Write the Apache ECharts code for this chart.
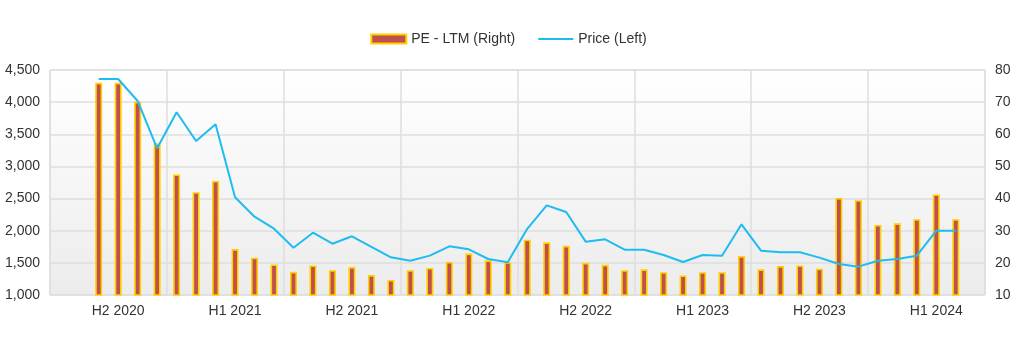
<!DOCTYPE html>
<html>
<head>
<meta charset="utf-8">
<script src="https://cdn.jsdelivr.net/npm/echarts@6/dist/echarts.min.js"></script>
<style>html,body{margin:0;padding:0;background:#fff}#c{width:1017px;height:348px}</style>
</head>
<body>
<div id="c"></div>
<script>
// Monthly categories Jul 2020 .. Jun 2024 (48 months)
const categories = [
  "Jul 2020","Aug 2020","Sep 2020","Oct 2020","Nov 2020","Dec 2020",
  "Jan 2021","Feb 2021","Mar 2021","Apr 2021","May 2021","Jun 2021",
  "Jul 2021","Aug 2021","Sep 2021","Oct 2021","Nov 2021","Dec 2021",
  "Jan 2022","Feb 2022","Mar 2022","Apr 2022","May 2022","Jun 2022",
  "Jul 2022","Aug 2022","Sep 2022","Oct 2022","Nov 2022","Dec 2022",
  "Jan 2023","Feb 2023","Mar 2023","Apr 2023","May 2023","Jun 2023",
  "Jul 2023","Aug 2023","Sep 2023","Oct 2023","Nov 2023","Dec 2023",
  "Jan 2024","Feb 2024","Mar 2024","Apr 2024","May 2024","Jun 2024"
];
const halfYearLabels = ["H2 2020","H1 2021","H2 2021","H1 2022","H2 2022","H1 2023","H2 2023","H1 2024"];

// PE - LTM (right axis), Sep 2020 .. May 2024
const peLtm = [
  76.0, 76.0, 70.1, 57.2, 47.5, 42.0, 45.5, 24.3, 21.6, 19.5,
  17.2, 19.2, 17.7, 18.7, 16.2, 14.7, 17.7, 18.4, 20.3, 22.9,
  20.8, 20.2, 27.2, 26.4, 25.3, 20.0, 19.4, 17.7, 18.0, 17.1,
  16.1, 17.1, 17.1, 22.1, 18.0, 19.0, 19.2, 18.2, 40.2, 39.5,
  31.8, 32.3, 33.6, 41.3, 33.6
];
// Price (left axis), Sep 2020 .. May 2024
const price = [
  4360, 4360, 4018, 3282, 3842, 3396, 3655, 2520, 2218, 2031,
  1736, 1969, 1798, 1913, 1747, 1586, 1533, 1612, 1757, 1711,
  1560, 1508, 2030, 2395, 2291, 1830, 1866, 1705, 1705, 1622,
  1513, 1622, 1612, 2100, 1690, 1664, 1664, 1581, 1482, 1441,
  1534, 1560, 1612, 2001, 2001
];
const firstIndex = 2; // data starts at Sep 2020

function pad(arr) {
  const out = categories.map(() => null);
  arr.forEach((v, i) => { out[firstIndex + i] = v; });
  return out;
}

const chart = echarts.init(document.getElementById('c'), null, {renderer: 'canvas'});
const textStyle = {fontFamily: 'Liberation Sans, Arial, sans-serif', fontSize: 14, color: '#333'};

chart.setOption({
  animation: false,
  textStyle: textStyle,
  legend: {
    top: 27,
    left: 'center',
    itemGap: 22,
    itemWidth: 35,
    itemHeight: 9,
    textStyle: textStyle,
    data: [
      {name: 'PE - LTM (Right)', icon: 'rect'},
      {name: 'Price (Left)', itemStyle: {opacity: 0}}
    ]
  },
  grid: {
    left: 50, right: 32, top: 70, bottom: 53,
    show: true,
    borderColor: '#d6d6d6',
    borderWidth: 1,
    backgroundColor: new echarts.graphic.LinearGradient(0, 0, 0, 1, [
      {offset: 0, color: '#ffffff'},
      {offset: 1, color: '#ececec'}
    ])
  },
  xAxis: {
    type: 'category',
    data: categories,
    boundaryGap: true,
    axisLine: {show: false},
    axisTick: {show: false},
    axisLabel: {
      ...textStyle,
      margin: 9,
      interval: (i) => i % 6 === 3,
      formatter: (v, i) => halfYearLabels[Math.floor(i / 6)]
    },
    splitLine: {show: true, interval: 5, lineStyle: {color: '#dedede', width: 1.5}}
  },
  yAxis: [
    {
      type: 'value', position: 'left',
      min: 1000, max: 4500, interval: 500,
      axisLine: {show: false}, axisTick: {show: false},
      axisLabel: {...textStyle, margin: 10, formatter: (v) => v.toLocaleString('en-US')},
      splitLine: {show: true, lineStyle: {color: '#dedede', width: 1.5}}
    },
    {
      type: 'value', position: 'right',
      min: 10, max: 80, interval: 10,
      axisLine: {show: false}, axisTick: {show: false},
      axisLabel: {...textStyle, margin: 10},
      splitLine: {show: false}
    }
  ],
  series: [
    {
      name: 'PE - LTM (Right)',
      type: 'bar',
      yAxisIndex: 1,
      barWidth: 7,
      data: pad(peLtm),
      itemStyle: {color: '#c0504d', borderColor: '#ffd000', borderWidth: 1.6}
    },
    {
      name: 'Price (Left)',
      type: 'line',
      yAxisIndex: 0,
      data: pad(price),
      showSymbol: false,
      symbol: 'none',
      connectNulls: false,
      lineStyle: {color: '#1ebcf0', width: 2},
      itemStyle: {color: '#1ebcf0'}
    }
  ]
});
</script>
</body>
</html>
